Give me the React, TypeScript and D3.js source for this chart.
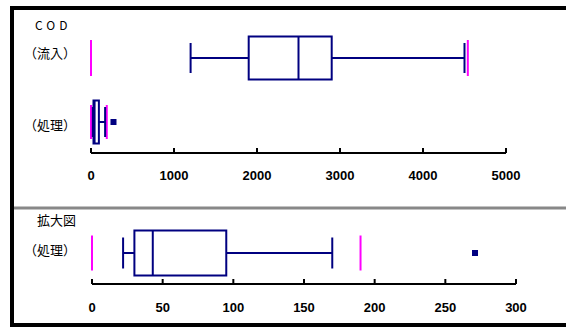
import * as d3 from "d3";
import { useEffect, useRef } from "react";

// box stats: [lower whisker, q1, median, q3, upper whisker]
const inflowStats = [1200, 1900, 2500, 2900, 4500];
const inflowRange = [0, 4540];
const treatedStats = [22, 30, 43, 95, 170];
const treatedRange = [0, 190];
const treatedOutliers = [271];

const upperTicks = [0, 1000, 2000, 3000, 4000, 5000];
const lowerTicks = [0, 50, 100, 150, 200, 250, 300];

const NAVY = "#000080";
const PINK = "#ff00ff";

export default function App() {
  const ref = useRef<SVGSVGElement>(null);

  useEffect(() => {
    if (!ref.current) return;
    const svg = d3.select(ref.current);
    svg.selectAll("*").remove();

    const width = 566;
    const height = 327;
    svg.attr("width", width).attr("height", height);

    svg.append("rect").attr("width", width).attr("height", height).attr("fill", "#fff");

    // frame
    svg.append("path")
      .attr("d", `M${width + 5},8 H12 V325 H${width + 5}`)
      .attr("fill", "none")
      .attr("stroke", "#000")
      .attr("stroke-width", 4);
    svg.append("line")
      .attr("x1", 14).attr("x2", width)
      .attr("y1", 208).attr("y2", 208)
      .attr("stroke", "#888")
      .attr("stroke-width", 3);

    const xUp = d3.scaleLinear().domain([0, 5000]).range([91, 506]);
    const xLo = d3.scaleLinear().domain([0, 300]).range([92, 516]);

    const labelFont = "'Noto Sans CJK JP', sans-serif";

    function axis(x: d3.ScaleLinear<number, number>, ticks: number[], y: number, labelY: number) {
      const g = svg.append("g");
      g.append("line")
        .attr("x1", x(ticks[0])).attr("x2", x(ticks[ticks.length - 1]))
        .attr("y1", y).attr("y2", y)
        .attr("stroke", "#000").attr("stroke-width", 2);
      g.selectAll("line.tick").data(ticks).enter().append("line")
        .attr("class", "tick")
        .attr("x1", d => x(d)).attr("x2", d => x(d))
        .attr("y1", y - 5).attr("y2", y)
        .attr("stroke", "#000").attr("stroke-width", 2);
      g.selectAll("text").data(ticks).enter().append("text")
        .attr("x", d => x(d)).attr("y", labelY)
        .attr("text-anchor", "middle")
        .attr("font-family", "Arial, 'Liberation Sans', sans-serif")
        .attr("font-weight", "bold")
        .attr("font-size", "13px")
        .attr("fill", "#000")
        .text(d => d);
    }

    function boxplot(
      x: d3.ScaleLinear<number, number>,
      stats: number[],
      range: number[],
      outliers: number[],
      cy: number,
      boxH: number,
      capH: number,
      limH: number
    ) {
      const g = svg.append("g");
      const [lo, q1, med, q3, hi] = stats;
      // limit lines
      g.selectAll("line.lim").data(range).enter().append("line")
        .attr("class", "lim")
        .attr("x1", d => x(d)).attr("x2", d => x(d))
        .attr("y1", cy - limH / 2).attr("y2", cy + limH / 2)
        .attr("stroke", PINK).attr("stroke-width", 2);
      // whiskers
      g.append("line").attr("x1", x(lo)).attr("x2", x(q1)).attr("y1", cy).attr("y2", cy)
        .attr("stroke", NAVY).attr("stroke-width", 2);
      g.append("line").attr("x1", x(q3)).attr("x2", x(hi)).attr("y1", cy).attr("y2", cy)
        .attr("stroke", NAVY).attr("stroke-width", 2);
      g.selectAll("line.cap").data([lo, hi]).enter().append("line")
        .attr("class", "cap")
        .attr("x1", d => x(d)).attr("x2", d => x(d))
        .attr("y1", cy - capH / 2).attr("y2", cy + capH / 2)
        .attr("stroke", NAVY).attr("stroke-width", 2);
      g.append("rect")
        .attr("x", x(q1)).attr("y", cy - boxH / 2)
        .attr("width", x(q3) - x(q1)).attr("height", boxH)
        .attr("fill", "none").attr("stroke", NAVY).attr("stroke-width", 2);
      g.append("line").attr("x1", x(med)).attr("x2", x(med))
        .attr("y1", cy - boxH / 2).attr("y2", cy + boxH / 2)
        .attr("stroke", NAVY).attr("stroke-width", 2);
      g.selectAll("rect.out").data(outliers).enter().append("rect")
        .attr("class", "out")
        .attr("x", d => x(d) - 3).attr("y", cy - 3)
        .attr("width", 6).attr("height", 6)
        .attr("fill", NAVY);
    }

    function label(text: string, x: number, y: number, extra?: (t: any) => void) {
      const t = svg.append("text")
        .attr("x", x).attr("y", y)
        .attr("font-family", labelFont)
        .attr("font-size", "13px")
        .attr("fill", "#000")
        .text(text);
      if (extra) extra(t);
    }

    // upper panel
    label("COD", 35, 30, t => t.attr("letter-spacing", "4px").attr("font-size", "12px"));
    label("（流入）", 24, 58);
    label("（処理）", 24, 130);
    boxplot(xUp, inflowStats, inflowRange, [], 58, 43, 30, 36);
    boxplot(xUp, treatedStats, treatedRange, treatedOutliers, 122, 43, 30, 34);
    axis(xUp, upperTicks, 153, 180);

    // lower panel
    label("拡大図", 37, 225);
    label("（処理）", 24, 255);
    boxplot(xLo, treatedStats, treatedRange, treatedOutliers, 253, 45, 31, 35);
    axis(xLo, lowerTicks, 284, 312);
  }, []);

  return <svg ref={ref} style={{ position: "absolute", left: 0, top: 0 }} />;
}
